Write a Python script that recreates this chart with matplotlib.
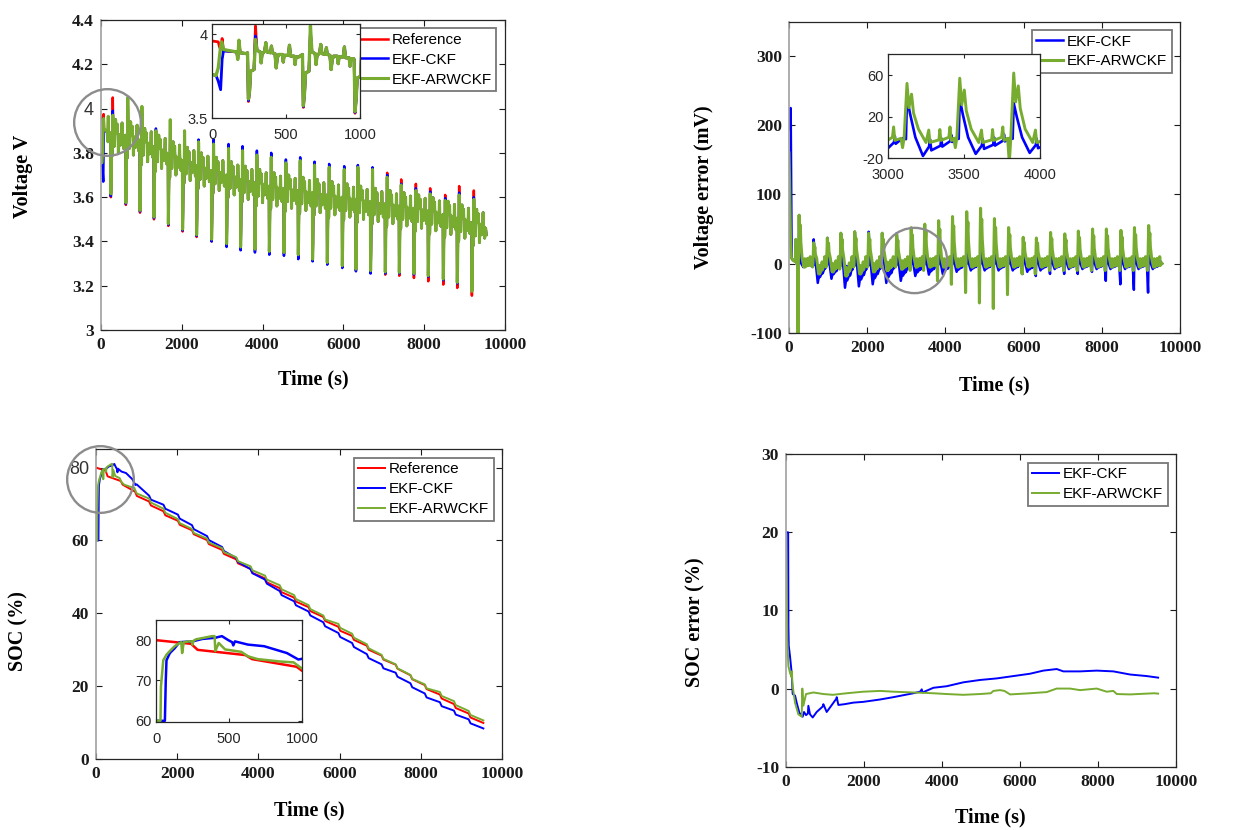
import numpy as np
import matplotlib
matplotlib.use("Agg")
import matplotlib.pyplot as plt
from matplotlib.ticker import FuncFormatter, FixedLocator

# ------------------------------------------------------------------ data
# pulse (cycle) start times, s
cycle_t = [244, 616, 966, 1312, 1667, 2021, 2368, 2739, 3110, 3457, 3812, 4167, 4530,
           4884, 5239, 5602, 5974, 6312, 6675, 7038, 7385, 7748, 8102, 8474, 8820, 9183]
t_end = 9540

# terminal voltage (V): plateau level, pulse minima and maxima per cycle
v_base = [3.900, 3.890, 3.860, 3.830, 3.800, 3.775, 3.750, 3.730, 3.710, 3.690, 3.675, 3.660, 3.650,
          3.640, 3.630, 3.620, 3.610, 3.600, 3.590, 3.580, 3.570, 3.560, 3.548, 3.532, 3.515, 3.495]
v_down_ref = [3.600, 3.565, 3.530, 3.500, 3.470, 3.445, 3.420, 3.400, 3.385, 3.370, 3.360, 3.350, 3.345,
              3.335, 3.315, 3.300, 3.285, 3.270, 3.265, 3.250, 3.245, 3.235, 3.220, 3.205, 3.190, 3.155]
v_down_ckf = [3.605, 3.570, 3.535, 3.505, 3.475, 3.450, 3.425, 3.400, 3.375, 3.360, 3.350, 3.340, 3.335,
              3.320, 3.310, 3.295, 3.280, 3.265, 3.255, 3.255, 3.255, 3.250, 3.240, 3.225, 3.210, 3.180]
v_down_arw = [3.615, 3.575, 3.540, 3.510, 3.480, 3.455, 3.430, 3.410, 3.390, 3.375, 3.365, 3.355, 3.350,
              3.340, 3.320, 3.305, 3.290, 3.275, 3.268, 3.262, 3.260, 3.255, 3.245, 3.230, 3.215, 3.175]
v_up_ref = [4.050, 4.000, 3.960, 3.900, 3.920, 3.880, 3.840, 3.830, 3.810, 3.790, 3.780, 3.770, 3.750,
            3.760, 3.740, 3.730, 3.720, 3.730, 3.720, 3.710, 3.680, 3.660, 3.640, 3.610, 3.650, 3.630]
v_up_ckf = [3.990, 4.010, 3.980, 3.910, 3.930, 3.890, 3.860, 3.860, 3.840, 3.830, 3.810, 3.800, 3.770,
            3.780, 3.760, 3.750, 3.740, 3.745, 3.735, 3.700, 3.660, 3.640, 3.625, 3.595, 3.620, 3.600]
v_up_arw = [3.970, 4.050, 4.010, 3.900, 3.950, 3.900, 3.850, 3.840, 3.820, 3.810, 3.790, 3.780, 3.755,
            3.765, 3.745, 3.735, 3.725, 3.735, 3.725, 3.690, 3.655, 3.630, 3.615, 3.585, 3.610, 3.590]
v_last = 3.43
# first seconds (before the first pulse)
v0_t_ref = [0, 40, 50, 60, 66, 75, 100, 165, 172, 180, 188, 230]
v0_ref = [3.960, 3.955, 3.920, 3.915, 3.975, 3.905, 3.900, 3.895, 3.860, 3.955, 3.890, 3.885]
v0_t_ckf = [0, 25, 40, 56, 66, 75, 100, 165, 172, 180, 188, 230]
v0_ckf = [3.760, 3.755, 3.720, 3.670, 3.850, 3.900, 3.900, 3.895, 3.860, 3.950, 3.890, 3.885]
v0_t_arw = [0, 25, 40, 55, 63, 75, 100, 165, 172, 180, 188, 230]
v0_arw = [3.760, 3.755, 3.800, 3.920, 3.955, 3.910, 3.905, 3.895, 3.850, 3.965, 3.890, 3.885]

# voltage error (mV) per cycle
e_peak_ckf = [70, 35, 37, 44, 46, 46, 44, 44, 38, 37, 33, 28, 22, 20, 18, 15, 12, 12, 12, 12, 12, 14, 16, 17, 18, 18]
e_trough_ckf = [-5, -28, -22, -35, -33, -30, -28, -25, -18, -16, -15, -12, -10, -10, -10, -10, -12, -10, -8, -8,
                -8, -8, -8, -8, -8, -8]
e_neg_ckf = [0, 0, 0, 0, 0, 0, 0, 0, 0, 0, 0, 0, 0, 0, 0, 0, -15, -18, -15, -15, -15, -12, -25, -30, -38, -42]
e_peak_arw = [70, 30, 37, 44, 46, 44, 44, 42, 52, 57, 62, 68, 75, 80, 65, 52, 38, 37, 45, 43, 47, 50, 50, 48, 52, 55]
e_neg_arw = [-140, -5, -5, -8, -5, -5, -5, -5, -10, -10, -25, -30, -42, -57, -65, -45, -15, -15, -10, -10, -10,
             -10, -10, -10, -10, -10]
e_trough_arw = [-5, -15, -12, -18, -15, -12, -10, -8, -5, -5, -5, -5, -5, -5, -5, -5, -5, -5, -5, -5, -5, -5,
                -5, -5, -5, -5]
e0_t_ckf = [0, 30, 43, 55, 68, 100, 150, 200]
e0_ckf = [195, 200, 225, 120, 8, 5, 4, 1]
e0_t_arw = [0, 15, 40, 60, 100, 150, 165, 172, 180, 205]
e0_arw = [160, 120, 30, 8, 5, 3, 5, 35, 3, 0]

# SOC (%) reference: before / after each pulse
soc_pre_ref = [79.1, 76.3, 73.4, 70.7, 68.0, 65.4, 62.8, 60.1, 57.4, 54.8, 52.2, 49.6, 46.9,
               44.3, 41.7, 39.0, 36.3, 33.8, 31.1, 28.4, 25.9, 23.0, 20.3, 17.7, 15.1, 12.5]
soc_post_ref = [77.6, 75.3, 72.2, 69.6, 66.9, 64.3, 61.7, 59.0, 56.3, 53.7, 51.1, 48.5, 45.8,
                43.2, 40.6, 37.9, 35.2, 32.7, 30.0, 27.3, 24.8, 21.9, 19.2, 16.6, 14.0, 11.4]
soc_end = [9.9, 8.4, 10.6]   # Reference, EKF-CKF, EKF-ARWCKF at t_end
# estimator offsets from reference for cycles 4..26
soc_off_ckf = [1.6, 1.8, 1.7, 1.4, 1.1, 0.8, 0.4, -0.1, -0.35, -0.8, -1.0, -1.2, -1.45, -1.7, -1.95,
               -2.3, -2.4, -2.2, -2.2, -2.3, -2.1, -1.8, -1.6]
soc_off_arw = [0.8, 0.7, 0.45, 0.35, 0.4, 0.5, 0.6, 0.7, 0.75, 0.8, 0.7, 0.55, 0.4, 0.8, 0.6, 0.4,
               0.2, 0.1, 0.1, 0.2, 0.7, 0.8, 0.7]
# first 1000 s of the estimators
soc0_t_ckf = [0, 60, 66, 71, 94, 127, 160, 249, 316, 405, 450, 494, 520, 528, 539, 628, 739, 895, 973, 1000]
soc0_ckf = [60, 60, 70, 75, 76.8, 78, 79.5, 79.7, 80.3, 80.6, 81, 80, 79.5, 78.7, 79.7, 78.9, 78.5, 76.8,
            75.2, 75.4]
soc0_t_arw = [0, 30, 33, 49, 71, 94, 127, 160, 172, 178, 189, 227, 245, 249, 255, 272, 383, 400, 405,
              428, 472, 583, 628, 695, 850, 940, 1000]
soc0_arw = [60, 60, 68.5, 75, 76.4, 77.3, 78.5, 79.3, 79.5, 76.8, 79.5, 79.7, 79.7, 78.9, 79.8, 80.2,
            81, 81, 77.3, 79.3, 77.7, 77.1, 76, 75.3, 74.7, 74.5, 72.9]

# SOC error (%)
se_t_ckf = [0, 55, 62, 70, 103, 145, 171, 231, 273, 342, 427, 462, 513, 560, 573, 615, 684, 786, 940,
            957, 1043, 1290, 1300, 1342, 1500, 1726, 1983, 2410, 2752, 3265, 3436, 3480, 3500, 3778,
            4120, 4547, 4974, 5402, 5829, 6256, 6598, 6940, 7111, 7538, 7966, 8393, 8821, 9248, 9540]
se_ckf = [20, 20, 8, 5.5, 4.1, 2.0, -0.7, -0.9, -1.8, -3.1, -3.6, -3.0, -3.4, -3.2, -2.2, -3.3, -3.7,
          -3.0, -2.3, -2.0, -3.0, -1.3, -1.1, -2.1, -2.0, -1.8, -1.7, -1.4, -1.1, -0.6, -0.4, -0.1,
          -0.5, 0.1, 0.3, 0.8, 1.1, 1.3, 1.6, 1.9, 2.3, 2.5, 2.2, 2.2, 2.3, 2.2, 1.8, 1.6, 1.4]
se_t_arw = [0, 34, 60, 103, 140, 150, 160, 171, 231, 316, 376, 402, 418, 430, 444, 513, 701, 957, 1200,
            1556, 1983, 2410, 2752, 3265, 3778, 4120, 4547, 4974, 5250, 5316, 5487, 5600, 5744, 6256,
            6684, 6940, 7282, 7538, 7966, 8222, 8393, 8479, 8821, 9444, 9540]
se_arw = [20, 6.3, 2.9, 2.0, 1.5, 2.2, 1.0, 0.3, -1.8, -3.3, -3.5, -3.6, 0, -1.0, -2.2, -0.7, -0.5,
          -0.7, -0.8, -0.6, -0.4, -0.3, -0.4, -0.5, -0.6, -0.7, -0.8, -0.7, -0.6, -0.3, -0.2, -0.3,
          -0.75, -0.6, -0.45, 0, 0, -0.2, 0, -0.4, -0.3, -0.7, -0.75, -0.6, -0.65]

labels3 = ["Reference", "EKF-CKF", "EKF-ARWCKF"]
C_RED, C_BLUE, C_GREEN = "#ff0000", "#0000ff", "#77ac30"

# ------------------------------------------------------------------ series builders
def volt_series(t0s, v0s, downs, ups):
    t, v = list(t0s), list(v0s)
    for k, c in enumerate(cycle_t):
        b = v_base[k]
        shape = [(-6, b - 0.01), (0, downs[k]), (8, b - 0.24), (15, b - 0.12), (38, b - 0.11),
                 (48, ups[k]), (58, b + 0.005),
                 (80, b - 0.005), (86, b - 0.07), (92, b - 0.02),
                 (110, b), (118, b + 0.05), (126, b - 0.005),
                 (150, b - 0.01), (156, b + 0.03), (162, b - 0.01),
                 (180, b - 0.015), (188, b - 0.10), (196, b - 0.04), (205, b - 0.02),
                 (230, b - 0.02), (236, b - 0.065), (242, b - 0.025),
                 (270, b - 0.025), (278, b + 0.035), (286, b - 0.03),
                 (310, b - 0.03), (316, b - 0.08), (322, b - 0.035), (340, b - 0.035)]
        for dt, val in shape:
            t.append(c + dt)
            v.append(val)
    t.append(t_end)
    v.append(v_last)
    return t, v


def err_ckf_series():
    t, v = list(e0_t_ckf), list(e0_ckf)
    for k, c in enumerate(cycle_t):
        p, tr, ng = e_peak_ckf[k], e_trough_ckf[k], e_neg_ckf[k]
        shape = [(-30, tr * 0.15), (0, ng), (8, tr * 0.1), (15, p), (35, 0.6 * p), (70, 0.0),
                 (120, tr), (160, tr * 0.5), (166, tr * 0.1), (175, tr * 0.7),
                 (235, tr * 0.45), (241, tr * 0.45 + 7), (247, tr * 0.5),
                 (300, tr * 0.2), (306, tr * 0.2 + 6), (312, tr * 0.25)]
        for dt, val in shape:
            t.append(c + dt)
            v.append(val)
    t.append(t_end)
    v.append(0)
    return t, v


def err_arw_series():
    t, v = list(e0_t_arw), list(e0_arw)
    for k, c in enumerate(cycle_t):
        p, tr, ng = e_peak_arw[k], e_trough_arw[k], e_neg_arw[k]
        shape = [(-25, tr * 0.2), (-14, ng), (-4, tr * 0.1), (15, p), (28, 0.55 * p), (45, 0.8 * p),
                 (58, 0.45 * p), (90, 8), (140, tr), (158, tr + 12), (166, tr),
                 (225, tr * 0.5), (231, tr * 0.5 + 10), (238, tr * 0.6),
                 (290, 0), (298, 10), (306, -3), (335, tr * 0.2)]
        for dt, val in shape:
            t.append(c + dt)
            v.append(val)
    t.append(t_end)
    v.append(0)
    return t, v


def soc_ref_series():
    t, v = [0], [80.0]
    for k, c in enumerate(cycle_t):
        t += [c - 5, c + 40]
        v += [soc_pre_ref[k], soc_post_ref[k]]
    t.append(t_end)
    v.append(soc_end[0])
    return t, v


def soc_est_series(t0s, v0s, offs, vend):
    t, v = list(t0s), list(v0s)
    for j, c in enumerate(cycle_t[3:]):
        k = j + 3
        t += [c - 5, c + 40]
        v += [soc_pre_ref[k] + offs[j], soc_post_ref[k] + offs[j]]
    t.append(t_end)
    v.append(vend)
    return t, v


tv_ref, vv_ref = volt_series(v0_t_ref, v0_ref, v_down_ref, v_up_ref)
tv_ckf, vv_ckf = volt_series(v0_t_ckf, v0_ckf, v_down_ckf, v_up_ckf)
tv_arw, vv_arw = volt_series(v0_t_arw, v0_arw, v_down_arw, v_up_arw)
te_ckf, ve_ckf = err_ckf_series()
te_arw, ve_arw = err_arw_series()
ts_ref, vs_ref = soc_ref_series()
ts_ckf, vs_ckf = soc_est_series(soc0_t_ckf, soc0_ckf, soc_off_ckf, soc_end[1])
ts_arw, vs_arw = soc_est_series(soc0_t_arw, soc0_arw, soc_off_arw, soc_end[2])

# ------------------------------------------------------------------ styling helpers
SERIF = "Liberation Serif"
SANS = "Liberation Sans"
fmt = FuncFormatter(lambda x, p: f"{x:g}")


def style_main(ax, yticks, ylim):
    ax.set_xlim(0, 10000)
    ax.set_ylim(*ylim)
    ax.xaxis.set_major_locator(FixedLocator([0, 2000, 4000, 6000, 8000, 10000]))
    ax.yaxis.set_major_locator(FixedLocator(yticks))
    ax.xaxis.set_major_formatter(fmt)
    ax.yaxis.set_major_formatter(fmt)
    ax.tick_params(direction="in", length=4, width=0.8, top=True, right=True, pad=5,
                   colors="#1a1a1a")
    for lab in ax.get_xticklabels() + ax.get_yticklabels():
        lab.set_fontfamily(SERIF)
        lab.set_fontweight("bold")
        lab.set_fontsize(12.5)
    for s in ax.spines.values():
        s.set_linewidth(0.9)
        s.set_color("#262626")
    ax.spines["left"].set_color("#a0a0a0")
    ax.spines["left"].set_linewidth(1.2)


def set_labels(ax, xl, yl, xy, yy):
    ax.set_xlabel(xl, fontfamily=SERIF, fontweight="bold", fontsize=14.5)
    ax.set_ylabel(yl, fontfamily=SERIF, fontweight="bold", fontsize=14.5)
    ax.xaxis.label.set_va("center")
    ax.yaxis.label.set_va("center")
    ax.xaxis.set_label_coords(0.525, xy)
    ax.yaxis.set_label_coords(yy[0], yy[1])


def style_inset(ax, xlim, xticks, ylim, yticks):
    ax.set_xlim(*xlim)
    ax.set_ylim(*ylim)
    ax.xaxis.set_major_locator(FixedLocator(xticks))
    ax.yaxis.set_major_locator(FixedLocator(yticks))
    ax.xaxis.set_major_formatter(fmt)
    ax.yaxis.set_major_formatter(fmt)
    ax.tick_params(direction="in", length=3, width=0.8, top=True, right=True,
                   labelsize=10.5, colors="#262626")
    ax.tick_params(axis="x", pad=7)
    ax.tick_params(axis="y", pad=3)
    for lab in ax.get_xticklabels() + ax.get_yticklabels():
        lab.set_fontfamily(SANS)
    for s in ax.spines.values():
        s.set_linewidth(0.9)
        s.set_color("#262626")


def add_legend(ax):
    leg = ax.legend(loc="upper right", prop={"family": SANS, "size": 11}, frameon=True,
                    fancybox=False, edgecolor="#555555", handlelength=1.75, handletextpad=0.25,
                    borderpad=0.3, labelspacing=0.38, borderaxespad=0.55)
    leg.get_frame().set_linewidth(1.3)


def circle(ax, x, y, d):
    ax.plot([x], [y], marker="o", markersize=d, markerfacecolor="none",
            markeredgecolor="#8c8c8c", markeredgewidth=1.7, clip_on=False, zorder=10)


def sans_tick(ax, value):
    for tk in ax.yaxis.get_major_ticks():
        if abs(tk.get_loc() - value) < 1e-9:
            tk.label1.set_fontfamily(SANS)
            tk.label1.set_fontweight("normal")
            tk.label1.set_fontsize(13)
            tk.label1.set_color("#333333")


# ------------------------------------------------------------------ figure
fig = plt.figure(figsize=(12.39, 8.3), dpi=100)

# --- Voltage
ax1 = fig.add_axes([0.0815, 0.6024, 0.326, 0.3735])
ax1.plot(tv_ref, vv_ref, color=C_RED, lw=1.8, label=labels3[0])
ax1.plot(tv_ckf, vv_ckf, color=C_BLUE, lw=1.8, label=labels3[1])
ax1.plot(tv_arw, vv_arw, color=C_GREEN, lw=2.2, label=labels3[2])
style_main(ax1, [3, 3.2, 3.4, 3.6, 3.8, 4, 4.2, 4.4], (3, 4.4))
set_labels(ax1, "Time (s)", "Voltage V", -0.161, (-0.194, 0.494))
add_legend(ax1)
circle(ax1, 149, 3.939, 48)
sans_tick(ax1, 4)

in1 = fig.add_axes([0.1714, 0.8575, 0.1192, 0.1133])
in1.plot(tv_ref, vv_ref, color=C_RED, lw=2.0)
in1.plot(tv_ckf, vv_ckf, color=C_BLUE, lw=2.0)
in1.plot(tv_arw, vv_arw, color=C_GREEN, lw=2.4)
style_inset(in1, (0, 1000), [0, 500, 1000], (3.5, 4.06), [3.5, 4])

# --- Voltage error
ax2 = fig.add_axes([0.6368, 0.5992, 0.3156, 0.3747])
ax2.plot(te_ckf, ve_ckf, color=C_BLUE, lw=1.8, label=labels3[1])
ax2.plot(te_arw, ve_arw, color=C_GREEN, lw=2.2, label=labels3[2])
style_main(ax2, [-100, 0, 100, 200, 300], (-100, 350))
set_labels(ax2, "Time (s)", "Voltage error (mV)", -0.171, (-0.217, 0.467))
add_legend(ax2)
circle(ax2, 3197, 5, 47)

in2 = fig.add_axes([0.7167, 0.8096, 0.1227, 0.1249])
in2.plot(te_ckf, ve_ckf, color=C_BLUE, lw=1.9)
in2.plot(te_arw, ve_arw, color=C_GREEN, lw=2.1)
style_inset(in2, (3000, 4000), [3000, 3500, 4000], (-20, 80), [-20, 20, 60])

# --- SOC
ax3 = fig.add_axes([0.0775, 0.0855, 0.3277, 0.3731])
ax3.plot(ts_ref, vs_ref, color=C_RED, lw=1.4, label=labels3[0])
ax3.plot(ts_ckf, vs_ckf, color=C_BLUE, lw=1.4, label=labels3[1])
ax3.plot(ts_arw, vs_arw, color=C_GREEN, lw=1.4, label=labels3[2])
style_main(ax3, [0, 20, 40, 60, 80], (0, 85))
set_labels(ax3, "Time (s)", "SOC (%)", -0.167, (-0.191, 0.413))
add_legend(ax3)
circle(ax3, 99, 76.8, 48)
sans_tick(ax3, 80)

in3 = fig.add_axes([0.1260, 0.1301, 0.1180, 0.1229])
in3.plot(ts_ref, vs_ref, color=C_RED, lw=1.8)
in3.plot(ts_ckf, vs_ckf, color=C_BLUE, lw=1.8)
in3.plot(ts_arw, vs_arw, color=C_GREEN, lw=1.8)
style_inset(in3, (0, 1000), [0, 500, 1000], (59.7, 85), [60, 70, 80])

# --- SOC error
ax4 = fig.add_axes([0.6344, 0.0763, 0.3148, 0.3764])
ax4.plot(se_t_ckf, se_ckf, color=C_BLUE, lw=1.4, label=labels3[1])
ax4.plot(se_t_arw, se_arw, color=C_GREEN, lw=1.4, label=labels3[2])
style_main(ax4, [-10, 0, 10, 20, 30], (-10, 30))
set_labels(ax4, "Time (s)", "SOC error (%)", -0.164, (-0.231, 0.463))
add_legend(ax4)

fig.savefig("out.png", dpi=100, facecolor="white")
